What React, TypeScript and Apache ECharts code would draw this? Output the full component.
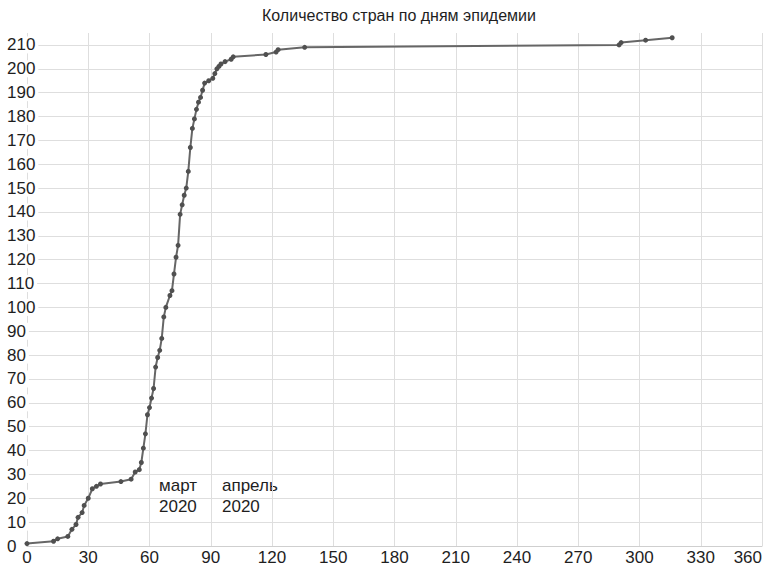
import React, { useEffect, useRef } from "react";
import * as echarts from "echarts";

const TITLE = "Количество стран по дням эпидемии";

// day of the epidemic (x) and number of countries (y)
const days = [
  0, 13, 15, 20, 22, 24, 25, 27, 28, 30,
  32, 34, 36, 46, 51, 53, 55, 56, 57, 58,
  59, 60, 61, 62, 63, 64, 65, 66, 67, 68,
  70, 71, 72, 73, 74, 75, 76, 77, 78, 79,
  80, 81, 82, 83, 84, 85, 86, 87, 89, 91,
  92, 93, 94, 95, 97, 100, 101, 117, 122, 123,
  136, 290, 291, 303, 316,
];
const countries = [
  1, 2, 3, 4, 7, 9, 12, 14, 17, 20,
  24, 25, 26, 27, 28, 31, 32, 35, 41, 47,
  55, 58, 62, 66, 75, 79, 82, 87, 96, 100,
  105, 107, 114, 121, 126, 139, 143, 147, 150, 157,
  167, 175, 179, 183, 186, 188, 191, 194, 195, 196,
  198, 200, 201, 202, 203, 204, 205, 206, 207, 208,
  209, 210, 211, 212, 213,
];

const xMin = 0;
const xMax = 360;
const xStep = 30;
const yMin = 0;
const yMax = 215;
const yStep = 10;

const monthLabels = ["март\n2020", "апрель\n2020"];

const FONT = "'Liberation Sans', Arial, sans-serif";

export default function App() {
  const ref = useRef<HTMLDivElement>(null);

  useEffect(() => {
    if (!ref.current) return;
    const chart = echarts.init(ref.current, null, { renderer: "svg" });
    const option: any = {
      animation: false,
      backgroundColor: "#ffffff",
      textStyle: { fontFamily: FONT },
      title: {
        text: TITLE,
        left: 262,
        top: 7,
        padding: 0,
        textStyle: { fontSize: 16, fontWeight: "normal", color: "#1e1e1e", fontFamily: FONT },
      },
      grid: { left: 27, right: 10, top: 33, bottom: 22, containLabel: false, outerBoundsMode: "none" },
      xAxis: {
        type: "value",
        min: xMin,
        max: xMax,
        interval: xStep,
        axisLine: { show: true, lineStyle: { color: "#cfcfcf", width: 1 } },
        axisTick: { show: false },
        axisLabel: {
          fontSize: 17,
          color: "#1e1e1e",
          margin: 3,
          fontFamily: FONT,
          alignMaxLabel: "right",
        },
        splitLine: { show: true, lineStyle: { color: "#dedede", width: 1 } },
      },
      yAxis: {
        type: "value",
        min: yMin,
        max: yMax,
        interval: yStep,
        axisLine: { show: false },
        axisTick: { show: false },
        axisLabel: {
          fontSize: 17,
          color: "#1e1e1e",
          fontFamily: FONT,
          align: "left",
          margin: 20,
          backgroundColor: "#ffffff",
          padding: [0, 3, 0, 0],
          formatter: (v: number) => (v % yStep === 0 ? String(v) : ""),
        },
        splitLine: { show: true, showMaxLine: false, lineStyle: { color: "#dedede", width: 1 } },
      },
      series: [
        {
          type: "line",
          data: days.map((d, i) => [d, countries[i]]),
          symbol: "circle",
          symbolSize: 5,
          showSymbol: true,
          lineStyle: { color: "#666666", width: 2 },
          itemStyle: { color: "#505050" },
          z: 5,
        },
      ],
      graphic: [
        {
          type: "text",
          left: 159,
          top: 475,
          style: { text: monthLabels[0], fontSize: 17, fontFamily: FONT, fill: "#1e1e1e", lineHeight: 21 },
        },
        {
          type: "text",
          left: 222,
          top: 475,
          style: { text: monthLabels[1], fontSize: 17, fontFamily: FONT, fill: "#1e1e1e", lineHeight: 21 },
        },
      ],
    };
    chart.setOption(option);
    return () => chart.dispose();
  }, []);

  return (
    <div
      ref={ref}
      style={{ position: "absolute", left: 0, top: 0, width: 772, height: 568, background: "#fff" }}
    />
  );
}
